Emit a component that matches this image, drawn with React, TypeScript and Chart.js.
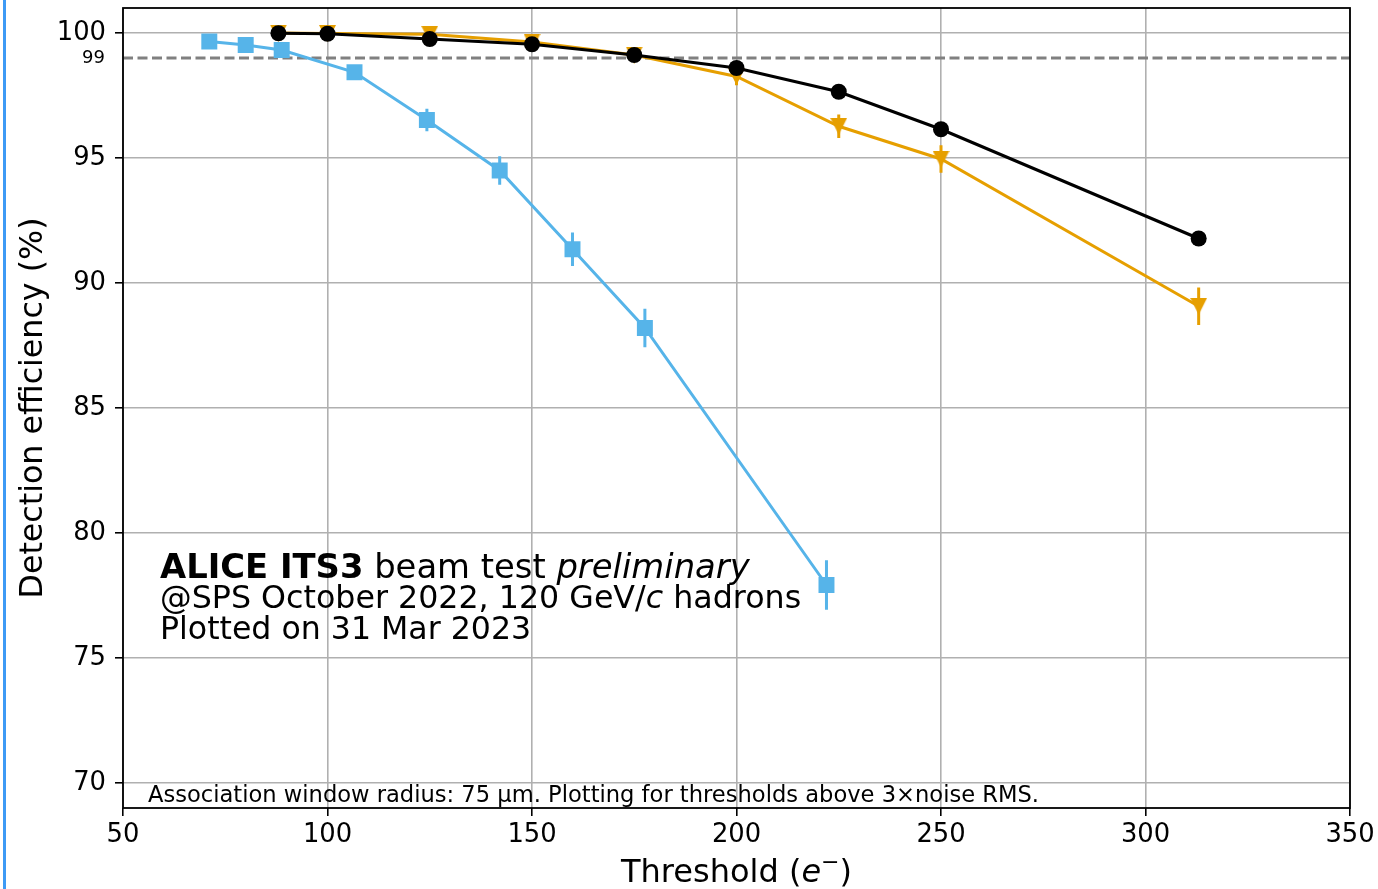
import React, { useEffect, useRef } from "react";
import { Chart, registerables } from "chart.js";

Chart.register(...registerables);

// ---- data ----
const blueX = [71.1, 80.0, 88.8, 106.6, 124.3, 142.1, 159.9, 177.6, 222.0];
const blueY = [99.66, 99.52, 99.32, 98.43, 96.52, 94.5, 91.35, 88.2, 77.92];
const blueErr = [0.08, 0.08, 0.12, 0.2, 0.45, 0.57, 0.67, 0.77, 0.99];

const thrX = [88, 100, 125, 150, 175, 200, 225, 250, 313];
const blackY = [99.99, 99.97, 99.76, 99.55, 99.12, 98.6, 97.65, 96.15, 91.78];
const blackErr = [0.02, 0.02, 0.04, 0.05, 0.07, 0.09, 0.12, 0.15, 0.25];
const orangeY = [100.0, 99.98, 99.95, 99.64, 99.12, 98.26, 96.27, 94.96, 89.07];
const orangeErr = [0.03, 0.03, 0.05, 0.08, 0.15, 0.35, 0.47, 0.55, 0.75];

const refLevel = 99;
const xTicks = [50, 100, 150, 200, 250, 300, 350];
const yTicks = [70, 75, 80, 85, 90, 95, 100];

const BLUE = "#56B4E9";
const ORANGE = "#E69F00";
const BLACK = "#000000";
const FONT = "'DejaVu Sans', sans-serif";

function makeTriangleDown(size: number, color: string) {
  const c = document.createElement("canvas");
  c.width = size;
  c.height = size;
  const g = c.getContext("2d")!;
  g.fillStyle = color;
  g.beginPath();
  g.moveTo(0, 0);
  g.lineTo(size, 0);
  g.lineTo(size / 2, size);
  g.closePath();
  g.fill();
  return c;
}

type Run = { t: string; w?: string; s?: string; size?: number; dy?: number };

function drawRuns(ctx: CanvasRenderingContext2D, runs: Run[], x: number, y: number, size: number) {
  let cx = x;
  for (const r of runs) {
    const sz = r.size ?? size;
    ctx.font = `${r.s ?? "normal"} ${r.w ?? "normal"} ${sz}px ${FONT}`;
    ctx.fillText(r.t, cx, y + (r.dy ?? 0));
    cx += ctx.measureText(r.t).width;
  }
  return cx - x;
}

function measureRuns(ctx: CanvasRenderingContext2D, runs: Run[], size: number) {
  let w = 0;
  for (const r of runs) {
    const sz = r.size ?? size;
    ctx.font = `${r.s ?? "normal"} ${r.w ?? "normal"} ${sz}px ${FONT}`;
    w += ctx.measureText(r.t).width;
  }
  return w;
}

const errorBarPlugin = {
  id: "errorBars",
  beforeDatasetsDraw(chart: any) {
    const { ctx, scales } = chart;
    const x = scales.x;
    const y = scales.y;
    const sets = [
      { xs: blueX, ys: blueY, es: blueErr, c: BLUE },
      { xs: thrX, ys: orangeY, es: orangeErr, c: ORANGE },
      { xs: thrX, ys: blackY, es: blackErr, c: BLACK },
    ];
    ctx.save();
    ctx.lineWidth = 3;
    for (const s of sets) {
      ctx.strokeStyle = s.c;
      ctx.beginPath();
      for (let i = 0; i < s.xs.length; i++) {
        const px = x.getPixelForValue(s.xs[i]);
        ctx.moveTo(px, y.getPixelForValue(s.ys[i] - s.es[i]));
        ctx.lineTo(px, y.getPixelForValue(s.ys[i] + s.es[i]));
      }
      ctx.stroke();
    }
    ctx.restore();
  },
};

const framePlugin = {
  id: "frame",
  afterDatasetsDraw(chart: any) {
    const { ctx, chartArea: a } = chart;
    ctx.save();
    ctx.strokeStyle = "#000";
    ctx.lineWidth = 1.8;
    ctx.strokeRect(a.left, a.top, a.right - a.left, a.bottom - a.top);
    ctx.restore();
  },
};

const textPlugin = {
  id: "texts",
  afterDraw(chart: any) {
    const { ctx, chartArea: a, scales } = chart;
    const y = scales.y;
    ctx.save();
    ctx.fillStyle = "#000";
    ctx.textBaseline = "middle";
    ctx.textAlign = "right";
    ctx.font = `18px ${FONT}`;
    ctx.fillText(String(refLevel), 105, y.getPixelForValue(refLevel) + 0);

    ctx.textAlign = "left";
    ctx.textBaseline = "alphabetic";
    drawRuns(ctx, [
      { t: "ALICE ITS3", w: "bold" },
      { t: " beam test " },
      { t: "preliminary", s: "italic" },
    ], 160, 578, 33.8);
    drawRuns(ctx, [
      { t: "@SPS October 2022, 120 GeV/" },
      { t: "c", s: "italic" },
      { t: " hadrons" },
    ], 160, 608, 31.7);
    drawRuns(ctx, [{ t: "Plotted on 31 Mar 2023" }], 160, 639, 31.6);

    ctx.font = `22.6px ${FONT}`;
    ctx.fillText("Association window radius: 75 \u00b5m. Plotting for thresholds above 3\u00d7noise RMS.", 148, 802);

    // x title
    const tSize = 32;
    const xRuns: Run[] = [
      { t: "Threshold (" },
      { t: "e", s: "italic" },
      { t: "\u2212", size: 22, dy: -13 },
      { t: ")" },
    ];
    const w = measureRuns(ctx, xRuns, tSize);
    drawRuns(ctx, xRuns, (a.left + a.right) / 2 - w / 2, 882, tSize);

    // y title
    ctx.save();
    ctx.translate(42, (a.top + a.bottom) / 2);
    ctx.rotate(-Math.PI / 2);
    ctx.textAlign = "center";
    ctx.font = `31.7px ${FONT}`;
    ctx.fillText("Detection efficiency (%)", 0, 0);
    ctx.restore();
    ctx.restore();
  },
};

export default function App() {
  const ref = useRef<HTMLCanvasElement>(null);
  useEffect(() => {
    const canvas = ref.current!;
    const tri = makeTriangleDown(17, ORANGE);
    const pts = (xs: number[], ys: number[]) => xs.map((v, i) => ({ x: v, y: ys[i] }));
    const chart = new Chart(canvas, {
      type: "line",
      data: {
        datasets: [
          {
            data: pts(thrX, blackY),
            borderColor: BLACK,
            backgroundColor: BLACK,
            borderWidth: 3,
            pointStyle: "circle",
            pointRadius: 8,
            pointBorderWidth: 0,
            order: 0,
          },
          {
            data: pts(thrX, orangeY),
            borderColor: ORANGE,
            backgroundColor: ORANGE,
            borderWidth: 3,
            pointStyle: tri as any,
            pointRadius: 8.5,
            order: 1,
          },
          {
            data: pts(blueX, blueY),
            borderColor: BLUE,
            backgroundColor: BLUE,
            borderWidth: 3,
            pointStyle: "rect",
            pointRadius: 11.3,
            pointBorderWidth: 0,
            order: 2,
          },
          {
            data: [
              { x: xTicks[0], y: refLevel },
              { x: xTicks[xTicks.length - 1], y: refLevel },
            ],
            borderColor: "#808080",
            borderWidth: 3,
            borderDash: [10, 4.5],
            pointRadius: 0,
            order: 3,
          },
        ] as any,
      },
      options: {
        animation: false,
        responsive: false,
        devicePixelRatio: 1,
        layout: { autoPadding: false, padding: { top: 8, right: 28, left: 0, bottom: 0 } },
        plugins: { legend: { display: false }, tooltip: { enabled: false } },
        elements: { line: { tension: 0 } },
        scales: {
          x: {
            type: "linear",
            min: 50,
            max: 350,
            afterBuildTicks: (s: any) => {
              s.ticks = xTicks.map((v) => ({ value: v }));
            },
            afterFit: (s: any) => {
              s.height = 81;
              s.paddingLeft = 0;
              s.paddingRight = 0;
            },
            grid: {
              color: "#b0b0b0",
              lineWidth: 1.6,
              tickColor: "#000",
              tickLength: 8,
              tickWidth: 1.6,
            },
            border: { display: false },
            ticks: {
              color: "#000",
              font: { family: FONT, size: 25.8 },
              padding: 4,
              maxRotation: 0,
              autoSkip: false,
            },
          },
          y: {
            type: "linear",
            min: 69,
            max: 101,
            afterBuildTicks: (s: any) => {
              s.ticks = yTicks.map((v) => ({ value: v }));
            },
            afterFit: (s: any) => {
              s.width = 123;
              s.paddingTop = 0;
              s.paddingBottom = 0;
            },
            grid: {
              color: "#b0b0b0",
              lineWidth: 1.6,
              tickColor: "#000",
              tickLength: 8,
              tickWidth: 1.6,
            },
            border: { display: false },
            ticks: {
              color: "#000",
              font: { family: FONT, size: 25.8, lineHeight: 0.5 },
              padding: 9,
              autoSkip: false,
            },
          },
        },
      },
      plugins: [errorBarPlugin, framePlugin, textPlugin],
    });
    return () => chart.destroy();
  }, []);

  return (
    <div style={{ position: "absolute", left: 0, top: 0, width: 1378, height: 889, background: "#fff" }}>
      <div style={{ position: "absolute", left: 3, top: 0, width: 3, height: 889, background: "#3d9af5" }} />
      <canvas ref={ref} width={1378} height={889} style={{ display: "block", width: 1378, height: 889 }} />
    </div>
  );
}
